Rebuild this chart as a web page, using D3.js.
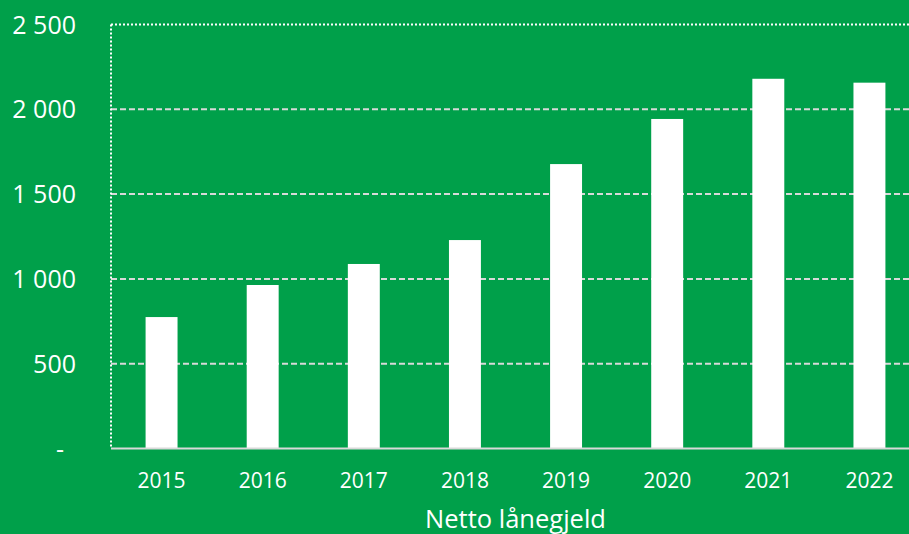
<!DOCTYPE html>
<html>
<head>
<meta charset="utf-8">
<script src="https://cdn.jsdelivr.net/npm/d3@7"></script>
<style>
  html, body { margin: 0; padding: 0; background: #00A04A; overflow: hidden; }
  svg { display: block; }
  text { font-family: "Open Sans", sans-serif; fill: #ffffff; }
</style>
</head>
<body>
<svg id="chart" width="909" height="534"></svg>
<script>
const categories = ["2015", "2016", "2017", "2018", "2019", "2020", "2021", "2022"];
const values = [775, 964, 1088, 1229, 1677, 1943, 2180, 2157];
const yTicks = [0, 500, 1000, 1500, 2000, 2500];
const yTickLabels = ["-", "500", "1 000", "1 500", "2 000", "2 500"];
const axisTitle = "Netto lånegjeld";

const svg = d3.select("#chart");
const plotLeft = 111, plotRight = 920, plotTop = 24.5, plotBottom = 448.5;

const x = d3.scaleBand().domain(categories).range([plotLeft, plotRight])
  .paddingInner(0.684).paddingOuter(0.342);
const y = d3.scaleLinear().domain([0, 2500]).range([plotBottom, plotTop]);

// gridlines (dashed) for intermediate ticks
svg.append("g").selectAll("line")
  .data(yTicks.filter(t => t > 0 && t < 2500))
  .join("line")
  .attr("x1", plotLeft).attr("x2", plotRight)
  .attr("y1", d => y(d)).attr("y2", d => y(d))
  .attr("stroke", "#d9d9d9").attr("stroke-width", 2)
  .attr("stroke-dasharray", "6,3");

// top border dotted
svg.append("line")
  .attr("x1", plotLeft).attr("x2", plotRight)
  .attr("y1", y(2500)).attr("y2", y(2500))
  .attr("stroke", "#ffffff").attr("stroke-width", 2)
  .attr("stroke-dasharray", "2,2");

// bars
svg.append("g").selectAll("rect")
  .data(categories.map((c, i) => ({ c, v: values[i] })))
  .join("rect")
  .attr("x", d => x(d.c))
  .attr("width", x.bandwidth())
  .attr("y", d => y(d.v))
  .attr("height", d => y(0) - y(d.v))
  .attr("fill", "#ffffff");

// left dotted axis line
svg.append("line")
  .attr("x1", plotLeft).attr("x2", plotLeft)
  .attr("y1", y(2500)).attr("y2", y(0))
  .attr("stroke", "#ffffff").attr("stroke-width", 2)
  .attr("stroke-dasharray", "2,2");

// bottom axis line
svg.append("line")
  .attr("x1", plotLeft).attr("x2", plotRight)
  .attr("y1", y(0)).attr("y2", y(0))
  .attr("stroke", "#d9d9d9").attr("stroke-width", 2);

// y tick labels
svg.append("g").selectAll("text")
  .data(yTicks)
  .join("text")
  .attr("x", d => d === 0 ? 64 : 76)
  .attr("y", d => y(d))
  .attr("dy", "0.36em")
  .attr("text-anchor", "end")
  .attr("font-size", 25)
  .text((d, i) => yTickLabels[i]);

// x tick labels
svg.append("g").selectAll("text")
  .data(categories)
  .join("text")
  .attr("x", d => x(d) + x.bandwidth() / 2)
  .attr("y", 488)
  .attr("text-anchor", "middle")
  .attr("font-size", 21)
  .text(d => d);

// axis title
svg.append("text")
  .attr("x", (plotLeft + plotRight) / 2)
  .attr("y", 528)
  .attr("text-anchor", "middle")
  .attr("font-size", 25.5)
  .text(axisTitle);
</script>
</body>
</html>
